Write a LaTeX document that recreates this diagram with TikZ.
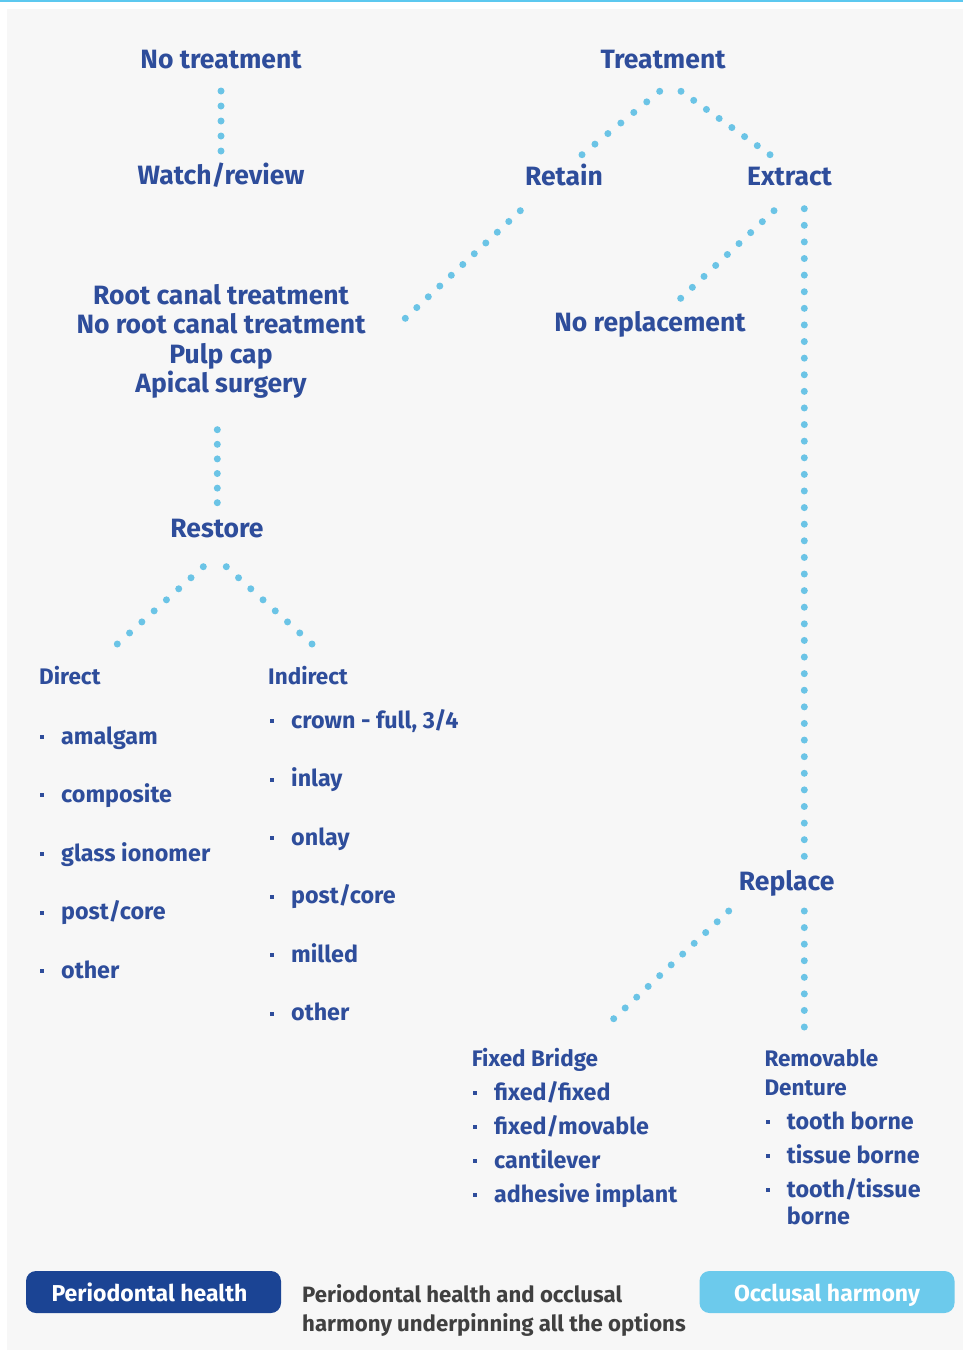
\documentclass[tikz,border=0pt]{standalone}
\usepackage{fontspec}
\setmainfont{Fira Sans}
\usepackage{tikz}
\usetikzlibrary{calc}
\definecolor{treeNavy}{HTML}{2E4D9B}
\definecolor{treeDots}{HTML}{6BC4E6}
\definecolor{panelGrey}{HTML}{F7F7F7}
\definecolor{boxNavy}{HTML}{1B4494}
\definecolor{boxSky}{HTML}{6CCAEC}
\definecolor{noteGrey}{HTML}{404040}
\definecolor{topLine}{HTML}{5CC8EF}

\tikzset{
  head/.style={anchor=base, inner sep=0pt, text=treeNavy, font=\fontsize{26.5}{29.5}\selectfont\bfseries},
  sublabel/.style={anchor=base west, inner sep=0pt, text=treeNavy, font=\fontsize{22.5}{28.3}\selectfont\bfseries},
  item/.style={anchor=base west, inner sep=0pt, text=treeNavy, align=left, font=\fontsize{23.3}{26.6}\selectfont\bfseries},
  legendbox/.style={rounded corners=10pt, minimum width=255pt, minimum height=42pt, inner sep=0pt,
      text height=18pt, text depth=0pt, text=white, font=\fontsize{23}{27}\selectfont\bfseries}
}

% dotted connector: from, to, number of gaps
\newcommand{\dotlink}[3]{%
  \path #1 coordinate (dlA) #2 coordinate (dlB);
  \foreach \k in {0,...,#3} \fill[treeDots] ($(dlA)!\k/#3!(dlB)$) circle (3.5pt);}

\begin{document}
\begin{tikzpicture}[x=1pt, y=-1pt]
    \useasboundingbox (0,0) rectangle (963,1350);
    % Fondo
    \fill[white] (0,0) rectangle (963,1350);
    \fill[panelGrey] (7,9) rectangle (963,1350);
    \fill[topLine] (0,0) rectangle (963,2);

    % Decisions
    \node[head] (notreat) at (221,68.3) {No treatment};
    \node[head] (watch) at (221,184.3) {Watch/review};
    \node[head] (treat) at (663,68) {Treatment};
    \node[head] (retain) at (564,185) {Retain};
    \node[head] (extract) at (789.5,185) {Extract};
    \node[head, anchor=north, align=center] (rootopts) at (221,284)
        {Root canal treatment\\No root canal treatment\\Pulp cap\\Apical surgery};
    \node[head] (norepl) at (650,331.6) {No replacement};
    \node[head] (restore) at (217,537.7) {Restore};
    \node[head] (replace) at (786.7,890) {Replace};

    % Restoration lists
    \node[sublabel] (direct) at (39,684) {Direct};
    \node[sublabel] (indirect) at (268,684) {Indirect};
    \foreach \txt [count=\i] in {amalgam, composite, glass ionomer, post/core, other} {
        \node[item] (dir\i) at (61,685.4+58.6*\i) {\txt};
        \fill[treeNavy] ([shift={(-21,-9.3)}]dir\i.base west) rectangle ++(4,4);
    }
    \foreach \txt [count=\i] in {{crown - full, 3/4}, inlay, onlay, post/core, milled, other} {
        \node[item] (ind\i) at (291,669.8+58.5*\i) {\txt};
        \fill[treeNavy] ([shift={(-21,-9.3)}]ind\i.base west) rectangle ++(4,4);
    }

    % Replacement lists
    \node[sublabel] (fixed) at (471.7,1066) {Fixed Bridge};
    \node[sublabel, anchor=north west, align=left] (removable) at (764.3,1049.6) {Removable\\Denture};
    \foreach \txt [count=\i] in {fixed/fixed, fixed/movable, cantilever, adhesive implant} {
        \node[item] (fix\i) at (494,1065.9+34.1*\i) {\txt};
        \fill[treeNavy] ([shift={(-21,-9.3)}]fix\i.base west) rectangle ++(4,4);
    }
    \foreach \txt [count=\i] in {tooth borne, tissue borne} {
        \node[item] (rem\i) at (786.7,1094.8+34.3*\i) {\txt};
        \fill[treeNavy] ([shift={(-21,-9.3)}]rem\i.base west) rectangle ++(4,4);
    }
    % two-line item: base sits on its last line
    \node[item] (rem3) at (786.7,1224.3) {tooth/tissue\\borne};
    \fill[treeNavy] ([shift={(-21,-35.9)}]rem3.base west) rectangle ++(4,4);

    % Dotted connectors
    \dotlink{([shift={(0,22.7)}]notreat.base)}{([shift={(0,-33.3)}]watch.base)}{4}
    \dotlink{([shift={(-3.3,23.3)}]treat.base)}{([shift={(18,-30.3)}]retain.base)}{6}
    \dotlink{([shift={(18,23.3)}]treat.base)}{([shift={(-19.5,-30.3)}]extract.base)}{7}
    \dotlink{([shift={(-43.7,25.7)}]retain.base)}{([shift={(184.3,34.3)}]rootopts.north)}{10}
    \dotlink{([shift={(-15.5,25.7)}]extract.base)}{([shift={(30.7,-33.3)}]norepl.base)}{8}
    \dotlink{([shift={(14.8,23.7)}]extract.base)}{([shift={(17.6,-33.7)}]replace.base)}{39}
    \dotlink{([shift={(-3.7,145.7)}]rootopts.north)}{([shift={(0.3,-35)}]restore.base)}{5}
    \dotlink{([shift={(-13.7,29)}]restore.base)}{([shift={(78.3,-40)}]direct.base west)}{7}
    \dotlink{([shift={(9.3,29)}]restore.base)}{([shift={(44,-40)}]indirect.base west)}{7}
    \dotlink{([shift={(-58,21)}]replace.base)}{([shift={(142,-47.3)}]fixed.base west)}{10}
    \dotlink{([shift={(17.6,21)}]replace.base)}{([shift={(40,-22.6)}]removable.north west)}{7}

    % Legend
    \node[legendbox, fill=boxNavy] (perio) at (153.5,1292) {Periodontal health\hspace*{8pt}};
    \node[legendbox, fill=boxSky] (occlusal) at (827,1292) {Occlusal harmony};
    \node[anchor=north west, inner sep=0pt, align=left, text=noteGrey,
          font=\fontsize{22.2}{29.5}\selectfont\bfseries] (note) at (302,1284)
        {Periodontal health and occlusal\\harmony underpinning all the options};
\end{tikzpicture}
\end{document}
